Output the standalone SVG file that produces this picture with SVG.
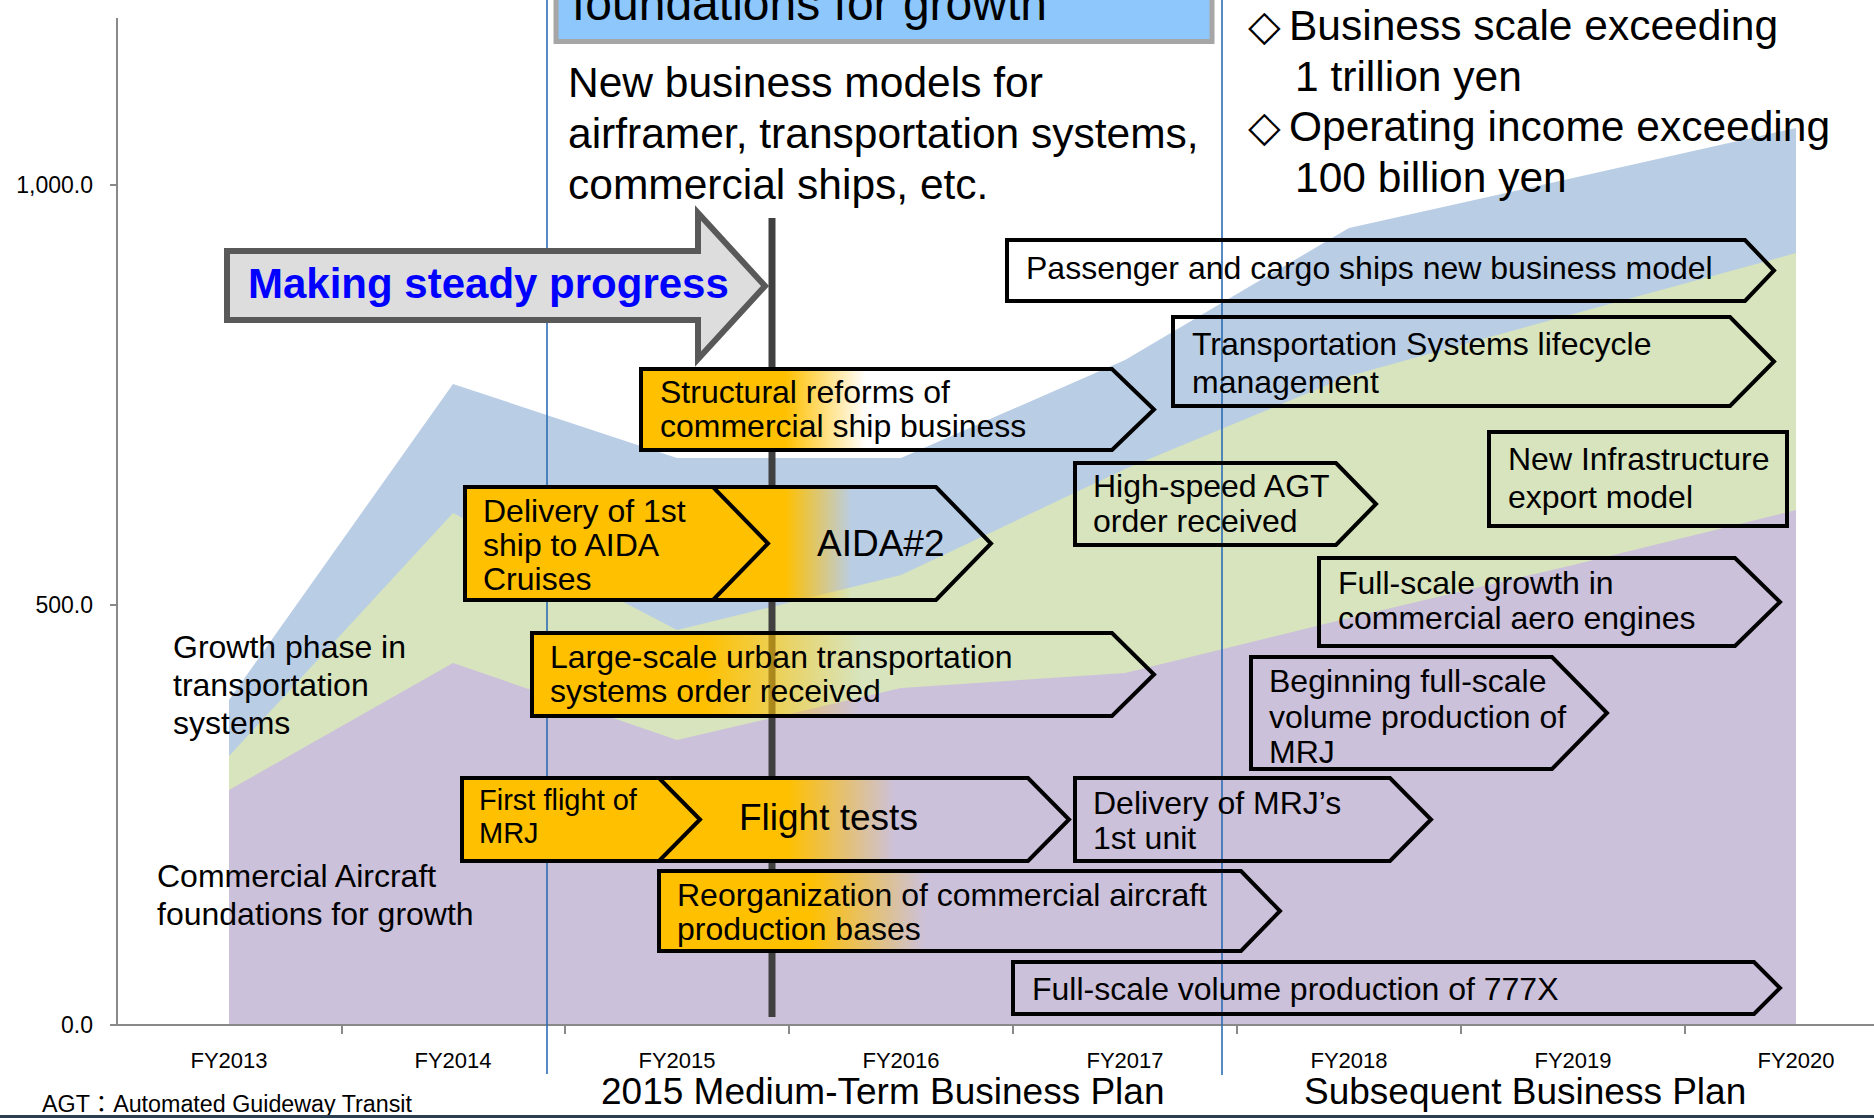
<svg xmlns="http://www.w3.org/2000/svg" width="1874" height="1118" viewBox="0 0 1874 1118">
<defs>
<style>
text{font-family:"Liberation Sans",Arial,sans-serif;fill:#000}
.t32{font-size:32px}
.t29{font-size:29px}
.t37{font-size:37px}
.t42{font-size:42.5px}
.ax{font-size:22px}
.box{stroke:#000;stroke-width:4;stroke-linejoin:miter}
.clear{fill:none}
.org{fill:#FFC000}
</style>
<linearGradient id="gS" gradientUnits="userSpaceOnUse" x1="785" y1="0" x2="866" y2="0"><stop offset="0" stop-color="#FFC000"/><stop offset="1" stop-color="#FFC000" stop-opacity="0"/></linearGradient>
<linearGradient id="gA" gradientUnits="userSpaceOnUse" x1="785" y1="0" x2="852" y2="0"><stop offset="0" stop-color="#FFC000"/><stop offset="1" stop-color="#FFC000" stop-opacity="0"/></linearGradient>
<linearGradient id="gL" gradientUnits="userSpaceOnUse" x1="705" y1="0" x2="860" y2="0"><stop offset="0" stop-color="#FFC000"/><stop offset="1" stop-color="#FFC000" stop-opacity="0"/></linearGradient>
<linearGradient id="gF" gradientUnits="userSpaceOnUse" x1="788" y1="0" x2="895" y2="0"><stop offset="0" stop-color="#FFC000"/><stop offset="1" stop-color="#FFC000" stop-opacity="0"/></linearGradient>
<linearGradient id="gR" gradientUnits="userSpaceOnUse" x1="810" y1="0" x2="925" y2="0"><stop offset="0" stop-color="#FFC000"/><stop offset="1" stop-color="#FFC000" stop-opacity="0"/></linearGradient>
</defs>
<rect width="1874" height="1118" fill="#fff"/>

<g id="chart">
<polygon fill="#B9CDE5" points="229,1025 229,700 453,384 677,458 901,458 1125,360 1349,228 1573,178 1796,128 1796,1025"/>
<polygon fill="#D7E4BD" points="229,1025 229,756 453,513 677,630 901,575 1125,469 1349,376 1573,314 1796,253 1796,1025"/>
<polygon fill="#CCC1DA" points="229,1025 229,790 453,663 677,740 901,688 1125,673 1349,618 1573,565 1796,510 1796,1025"/>
<g stroke="#898989" stroke-width="2" fill="none">
<line x1="117" y1="18" x2="117" y2="1026"/>
<line x1="116" y1="1025" x2="1874" y2="1025"/>
<line x1="110" y1="185" x2="117" y2="185"/>
<line x1="110" y1="605" x2="117" y2="605"/>
<line x1="110" y1="1025" x2="117" y2="1025"/>
<line x1="342" y1="1025" x2="342" y2="1034"/>
<line x1="565" y1="1025" x2="565" y2="1034"/>
<line x1="789" y1="1025" x2="789" y2="1034"/>
<line x1="1013" y1="1025" x2="1013" y2="1034"/>
<line x1="1237" y1="1025" x2="1237" y2="1034"/>
<line x1="1461" y1="1025" x2="1461" y2="1034"/>
<line x1="1685" y1="1025" x2="1685" y2="1034"/>
</g>
<g text-anchor="end">
<text x="93" y="193" style="font-size:23px">1,000.0</text>
<text x="93" y="613" style="font-size:23px">500.0</text>
<text x="93" y="1033" style="font-size:23px">0.0</text>
</g>
<g text-anchor="middle">
<text class="ax" x="229" y="1068">FY2013</text>
<text class="ax" x="453" y="1068">FY2014</text>
<text class="ax" x="677" y="1068">FY2015</text>
<text class="ax" x="901" y="1068">FY2016</text>
<text class="ax" x="1125" y="1068">FY2017</text>
<text class="ax" x="1349" y="1068">FY2018</text>
<text class="ax" x="1573" y="1068">FY2019</text>
<text class="ax" x="1796" y="1068">FY2020</text>
</g>
</g>

<g id="guides">
<line x1="547" y1="0" x2="547" y2="1074" stroke="#2E6DB4" stroke-width="1.6"/>
<line x1="1222" y1="0" x2="1222" y2="1075" stroke="#2E6DB4" stroke-width="1.6"/>
<line x1="772" y1="218" x2="772" y2="1017" stroke="#404040" stroke-width="7"/>
</g>

<g id="title-box">
<rect x="556" y="-10" width="656" height="51.5" fill="#8DC7FC" stroke="#A6A6A6" stroke-width="5"/>
<text x="572" y="20" style="font-size:48px">foundations for growth</text>
</g>

<g id="new-models">
<text class="t42" x="568" y="97">New business models for</text>
<text class="t42" x="568" y="148">airframer, transportation systems,</text>
<text class="t42" x="568" y="199">commercial ships, etc.</text>
</g>

<g id="targets">
<text class="t42"><tspan x="1248" y="40" font-family="'DejaVu Sans',sans-serif">◇</tspan><tspan x="1289" y="40">Business scale exceeding</tspan></text>
<text class="t42" x="1295" y="91">1 trillion yen</text>
<text class="t42"><tspan x="1248" y="141" font-family="'DejaVu Sans',sans-serif">◇</tspan><tspan x="1289" y="141">Operating income exceeding</tspan></text>
<text class="t42" x="1295" y="192">100 billion yen</text>
</g>

<g id="steady-progress">
<polygon points="227,251 698,251 698,213 765,286 698,359 698,320 227,320" fill="#DDDDDD" stroke="#595959" stroke-width="6"/>
<text x="248" y="298" style="font-size:42px;font-weight:bold;fill:#0000FF">Making steady progress</text>
</g>

<g id="structural-reforms">
<polygon class="box" fill="url(#gS)" points="641,369 1112,369 1154,409.5 1112,450 641,450"/>
<text class="t32" x="660" y="403">Structural reforms of</text>
<text class="t32" x="660" y="437">commercial ship business</text>
</g>

<g id="aida2">
<polygon class="box" fill="url(#gA)" points="713,487 936,487 991,543.5 936,600 713,600"/>
<text class="t37" x="817" y="556">AIDA#2</text>
</g>

<g id="aida-delivery">
<polygon class="box org" points="465,487 713,487 768,543.5 713,600 465,600"/>
<text class="t32" x="483" y="522">Delivery of 1st</text>
<text class="t32" x="483" y="556">ship to AIDA</text>
<text class="t32" x="483" y="590">Cruises</text>
</g>

<g id="large-scale">
<polygon class="box" fill="url(#gL)" points="532,633 1112,633 1154,674.5 1112,716 532,716"/>
<text class="t32" x="550" y="668">Large-scale urban transportation</text>
<text class="t32" x="550" y="702">systems order received</text>
</g>

<g id="flight-tests">
<polygon class="box" fill="url(#gF)" points="659,778 1028,778 1069,819.5 1028,861 659,861"/>
<text class="t37" x="739" y="830">Flight tests</text>
</g>

<g id="first-flight">
<polygon class="box org" points="462,778 659,778 700,819.5 659,861 462,861"/>
<text class="t29" x="479" y="810">First flight of</text>
<text class="t29" x="479" y="843">MRJ</text>
</g>

<g id="reorganization">
<polygon class="box" fill="url(#gR)" points="659,871 1241,871 1280,911 1241,951 659,951"/>
<text class="t32" x="677" y="906">Reorganization of commercial aircraft</text>
<text class="t32" x="677" y="940">production bases</text>
</g>

<g id="passenger-cargo">
<polygon class="box clear" points="1007,240 1745,240 1774,270.5 1745,301 1007,301"/>
<text class="t32" x="1026" y="279">Passenger and cargo ships new business model</text>
</g>

<g id="lifecycle">
<polygon class="box clear" points="1173,317 1730,317 1774,361.5 1730,406 1173,406"/>
<text class="t32" x="1192" y="355">Transportation Systems lifecycle</text>
<text class="t32" x="1192" y="393">management</text>
</g>

<g id="high-speed-agt">
<polygon class="box clear" points="1075,463 1336,463 1376,504 1336,545 1075,545"/>
<text class="t32" x="1093" y="497">High-speed AGT</text>
<text class="t32" x="1093" y="532">order received</text>
</g>

<g id="new-infrastructure">
<rect class="box clear" x="1489" y="432" width="298" height="94"/>
<text class="t32" x="1508" y="470">New Infrastructure</text>
<text class="t32" x="1508" y="508">export model</text>
</g>

<g id="aero-engines">
<polygon class="box clear" points="1319,558 1735,558 1780,602 1735,646 1319,646"/>
<text class="t32" x="1338" y="594">Full-scale growth in</text>
<text class="t32" x="1338" y="629">commercial aero engines</text>
</g>

<g id="mrj-production">
<polygon class="box clear" points="1251,657 1552,657 1607,713 1552,769 1251,769"/>
<text class="t32" x="1269" y="692">Beginning full-scale</text>
<text class="t32" x="1269" y="728">volume production of</text>
<text class="t32" x="1269" y="763">MRJ</text>
</g>

<g id="mrj-delivery">
<polygon class="box clear" points="1075,778 1390,778 1431,819.5 1390,861 1075,861"/>
<text class="t32" x="1093" y="814">Delivery of MRJ’s</text>
<text class="t32" x="1093" y="849">1st unit</text>
</g>

<g id="production-777x">
<polygon class="box clear" points="1013,962 1754,962 1780,988 1754,1014 1013,1014"/>
<text class="t32" x="1032" y="1000">Full-scale volume production of 777X</text>
</g>

<g id="labels">
<text class="t32" x="173" y="658">Growth phase in</text>
<text class="t32" x="173" y="696">transportation</text>
<text class="t32" x="173" y="734">systems</text>
<text class="t32" x="157" y="887">Commercial Aircraft</text>
<text class="t32" x="157" y="925">foundations for growth</text>
<text class="t37" x="601" y="1104">2015 Medium-Term Business Plan</text>
<text class="t37" x="1304" y="1104">Subsequent Business Plan</text>
<text x="42" y="1112" style="font-size:23px" textLength="370" lengthAdjust="spacingAndGlyphs">AGT<tspan font-family="'Noto Sans CJK JP',sans-serif">：</tspan>Automated Guideway Transit</text>
</g>
<rect x="0" y="1115" width="1874" height="3" fill="#2B3E50"/>
</svg>
